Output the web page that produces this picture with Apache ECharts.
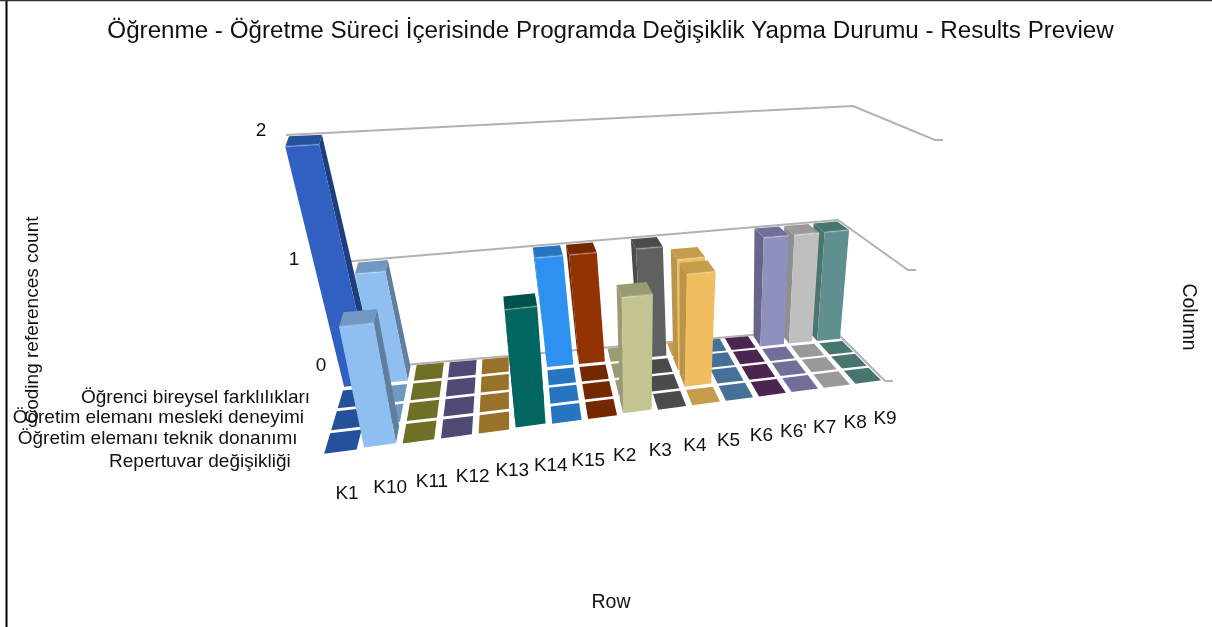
<!DOCTYPE html>
<html><head><meta charset="utf-8">
<style>html,body{margin:0;padding:0;background:#fff}#c{width:1212px;height:627px}</style>
<script src="https://cdn.jsdelivr.net/npm/echarts@6/dist/echarts.min.js"></script>
</head><body><div id="c"></div>
<script>
const titleText = 'Öğrenme - Öğretme Süreci İçerisinde Programda Değişiklik Yapma Durumu - Results Preview';
const columns = ['K1','K10','K11','K12','K13','K14','K15','K2','K3','K4','K5','K6',"K6'",'K7','K8','K9'];
const rows = ['Repertuvar değişikliği','Öğretim elemanı teknik donanımı','Öğretim elemanı mesleki deneyimi','Öğrenci bireysel farklılıkları'];
const repertuvar = [0,1,0,0,0,1,0,0,1,0,0,0,0,0,0,0];
const teknik     = [0,0,0,0,0,0,0,0,0,0,1,0,0,0,0,0];
const mesleki    = [0,0,0,0,0,0,0,0,0,0,1,0,0,0,0,0];
const bireysel   = [2,1,0,0,0,0,1,1,0,1,0,0,0,1,1,1];
const rowValues = [repertuvar, teknik, mesleki, bireysel];
const heightTicks = [0,1,2];
// palette per column: front face, side face, top face / floor cell
const frontColors = ['#3060C2','#8FBFF0','#8C8D32','#635D92','#BF8F33','#00665F','#2E90F0','#923200','#C4C492','#606060','#F0BE5E','#5A8DBF','#5F2F65','#8F8FC0','#BFBFBF','#5F8F8F'];
const sideColors  = ['#1E3E80','#5F7F9F','#5F6020','#403C60','#80601F','#004A45','#1F5F9F','#6A2400','#9A9B72','#4B4B4B','#B8954A','#3C5F80','#402044','#666688','#8F8F8F','#4A7570'];
const topColors   = ['#24509C','#7098C0','#6F7026','#4F4A74','#987228','#00524D','#2575C0','#742800','#9A9B72','#4B4B4B','#C49C4A','#477099','#4B2550','#6F6F9A','#999999','#47756F'];
const floorColors = topColors;

// height planes, corners: front-left, front-right, back-right, back-left
const planes = [
  [[320,456],[885,381],[832,328],[346,370]],
  [[291,334],[908,270],[838,220],[319,264]],
  [[263,194],[935,140],[853,106],[286,135]]
];
const labelStart=[347,494], labelEnd=[885,419];
const ruC = 0.88, ruR = 0.87, ruL = 0.82;
const warp=(s,r)=>s/(s+r*(1-s));
const lerp=(a,b,t)=>[a[0]+(b[0]-a[0])*t,a[1]+(b[1]-a[1])*t];
function plane(q,u,v){
  const su=warp(u,ruC), sv=warp(v,ruR);
  return lerp(lerp(q[0],q[1],su),lerp(q[3],q[2],su),sv);
}
// (column, row, height) -> plot position
function project(c,r,z){
  const u=c/columns.length, v=r/rows.length;
  return plane(planes[z],u,v);
}
const GAP_C=0.09, GAP_R=0.07, BAR_R0=0.12, BAR_R1=0.88;
const cellData=[], barData=[];
for(let r=rows.length-1;r>=0;r--){
  const order=columns.map((_,i)=>i).sort((a,b)=>Math.abs(b-5)-Math.abs(a-5));
  for(const c of order){
    if(rowValues[r][c]>0) barData.push([c,r,rowValues[r][c]]);
    else cellData.push([c,r,0]);
  }
}
function poly(api,pts,fill){
  return {type:'polygon',shape:{points:pts.map(p=>api.coord(p))},style:{fill:fill}};
}
function renderCell(params,api){
  const c=api.value(0), r=api.value(1);
  const a=c+GAP_C,b=c+1-GAP_C,f=r+GAP_R,k=r+1-GAP_R;
  return poly(api,[project(a,f,0),project(b,f,0),project(b,k,0),project(a,k,0)],floorColors[c]);
}
function renderBar(params,api){
  const c=api.value(0), r=api.value(1), z=api.value(2);
  const a=c+GAP_C,b=c+1-GAP_C,f=r+BAR_R0,k=r+BAR_R1;
  const P=project;
  const kids=[];
  if(P(a,k,z)[0]<P(a,f,z)[0]) kids.push(poly(api,[P(a,f,0),P(a,k,0),P(a,k,z),P(a,f,z)],sideColors[c]));
  if(P(b,k,z)[0]>P(b,f,z)[0]) kids.push(poly(api,[P(b,f,0),P(b,k,0),P(b,k,z),P(b,f,z)],sideColors[c]));
  kids.push(poly(api,[P(a,f,z),P(b,f,z),P(b,k,z),P(a,k,z)],topColors[c]));
  kids.push(poly(api,[P(a,f,0),P(b,f,0),P(b,f,z),P(a,f,z)],frontColors[c]));
  const s=api.coord(P(a,f,z)), e=api.coord(P(b,f,z));
  kids.push({type:'line',shape:{x1:s[0],y1:s[1],x2:e[0],y2:e[1]},style:{stroke:'rgba(255,255,255,0.22)',lineWidth:2}});
  return {type:'group',children:kids};
}
function renderGrid(params,api){
  const z=api.value(0), n=columns.length, m=rows.length;
  const e=project(n,0,z);
  const pts=[project(0,m,z),project(n,m,z),e,[e[0]+8,e[1]]].map(p=>api.coord(p));
  return {type:'polyline',shape:{points:pts},style:{fill:'none',stroke:'#B2B2B2',lineWidth:2}};
}
function txt(api,p,text,opt){
  const q=api.coord(p);
  return {type:'text',x:q[0],y:q[1],
    style:{text:text,fill:'#111',font:(opt.size||19)+'px "Liberation Sans"',align:opt.align||'center',verticalAlign:'middle'}};
}
function renderColLabel(params,api){
  const c=api.value(0);
  return txt(api,lerp(labelStart,labelEnd,warp(c/(columns.length-1),ruL)),columns[c],{});
}
function renderRowLabel(params,api){
  const r=api.value(0), p=project(0,r+0.5,0);
  return txt(api,[p[0]-33,p[1]+18],rows[r],{align:'right'});
}
function renderTick(params,api){
  const z=api.value(0), p=project(0,rows.length,z);
  return txt(api,[p[0]-25,p[1]-4],String(heightTicks[z]),{size:19});
}
const base={type:'custom',coordinateSystem:'cartesian2d',clip:false,silent:true,animation:false};
const chart=echarts.init(document.getElementById('c'),null,{renderer:'canvas'});
const nameFont='19.5px "Liberation Sans"';
chart.setOption({
  animation:false,
  backgroundColor:'#fff',
  title:{text:titleText,left:605.5,top:14,textAlign:'center',textStyle:{fontFamily:'Liberation Sans',fontWeight:'normal',fontSize:24.2,color:'#111'}},
  grid:{left:0,right:0,top:0,bottom:0},
  xAxis:{type:'value',min:0,max:1212,show:false},
  yAxis:{type:'value',min:0,max:627,inverse:true,show:false},
  graphic:[
    {type:'line',shape:{x1:6.5,y1:0,x2:6.5,y2:627},style:{stroke:'#000',lineWidth:2}},
    {type:'line',shape:{x1:0,y1:0.5,x2:1212,y2:0.5},style:{stroke:'#333',lineWidth:1.5}},
    {type:'text',x:33,y:320,rotation:Math.PI/2,style:{text:'Coding references count',fill:'#111',font:'19px "Liberation Sans"',align:'center',verticalAlign:'middle'}},
    {type:'text',x:1188,y:317,rotation:-Math.PI/2,style:{text:'Column',fill:'#111',font:nameFont,align:'center',verticalAlign:'middle'}},
    {type:'text',x:611,y:603,style:{text:'Row',fill:'#111',font:nameFont,align:'center',verticalAlign:'middle'}}
  ],
  series:[
    Object.assign({},base,{name:'grid',z:1,data:heightTicks.map(t=>[t]),renderItem:renderGrid}),
    Object.assign({},base,{name:'floor',z:2,data:cellData,renderItem:renderCell}),
    Object.assign({},base,{name:'bars',z:3,data:barData,renderItem:renderBar}),
    Object.assign({},base,{name:'columns',z:4,data:columns.map((_,i)=>[i]),renderItem:renderColLabel}),
    Object.assign({},base,{name:'rows',z:5,data:rows.map((_,i)=>[i]),renderItem:renderRowLabel}),
    Object.assign({},base,{name:'ticks',z:5,data:heightTicks.map(t=>[t]),renderItem:renderTick})
  ]
});
</script></body></html>
